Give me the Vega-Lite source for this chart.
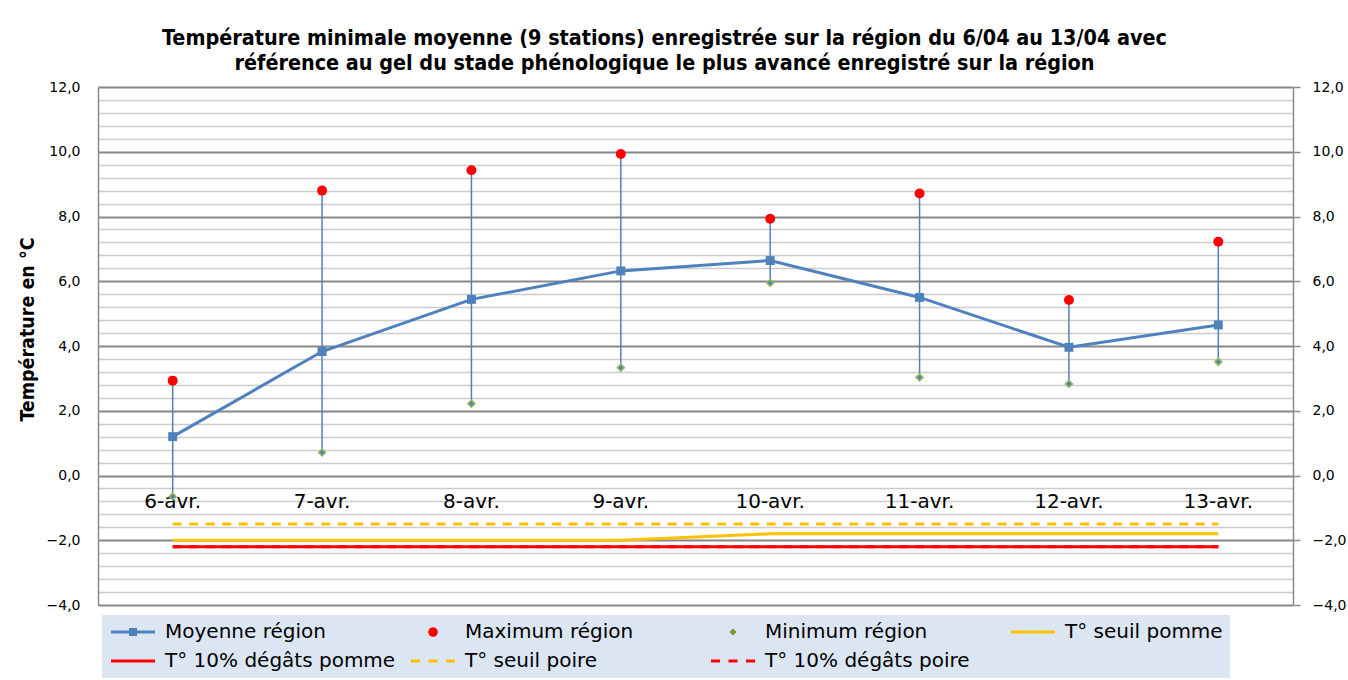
{
  "$schema": "https://vega.github.io/schema/vega-lite/v6.json",
  "width": 1195,
  "height": 518,
  "autosize": "none",
  "padding": {"left": 98, "top": 87, "right": 55, "bottom": 75},
  "background": "white",
  "config": {"view": {"stroke": null}, "font": "DejaVu Sans"},
  "title": {
    "text": ["Température minimale moyenne (9 stations) enregistrée sur la région du 6/04 au 13/04 avec", "référence au gel du stade phénologique le plus avancé enregistré sur la région"],
    "font": "Liberation Sans Narrow, DejaVu Sans Condensed, DejaVu Sans",
    "fontSize": 21.4,
    "fontWeight": "bold",
    "color": "black",
    "anchor": "middle",
    "lineHeight": 25,
    "offset": 6,
    "dx": -31
  },
  "datasets": {
    "temps": [
      {"date": "6-avr.", "moy": 1.2, "max": 2.93, "min": -0.65, "seuil_pomme": -2.0, "degats_pomme": -2.2, "seuil_poire": -1.5, "degats_poire": -2.2},
      {"date": "7-avr.", "moy": 3.83, "max": 8.8, "min": 0.71, "seuil_pomme": -2.0, "degats_pomme": -2.2, "seuil_poire": -1.5, "degats_poire": -2.2},
      {"date": "8-avr.", "moy": 5.44, "max": 9.43, "min": 2.22, "seuil_pomme": -2.0, "degats_pomme": -2.2, "seuil_poire": -1.5, "degats_poire": -2.2},
      {"date": "9-avr.", "moy": 6.32, "max": 9.93, "min": 3.33, "seuil_pomme": -2.0, "degats_pomme": -2.2, "seuil_poire": -1.5, "degats_poire": -2.2},
      {"date": "10-avr.", "moy": 6.64, "max": 7.93, "min": 5.95, "seuil_pomme": -1.8, "degats_pomme": -2.2, "seuil_poire": -1.5, "degats_poire": -2.2},
      {"date": "11-avr.", "moy": 5.5, "max": 8.71, "min": 3.03, "seuil_pomme": -1.8, "degats_pomme": -2.2, "seuil_poire": -1.5, "degats_poire": -2.2},
      {"date": "12-avr.", "moy": 3.96, "max": 5.42, "min": 2.83, "seuil_pomme": -1.8, "degats_pomme": -2.2, "seuil_poire": -1.5, "degats_poire": -2.2},
      {"date": "13-avr.", "moy": 4.65, "max": 7.22, "min": 3.51, "seuil_pomme": -1.8, "degats_pomme": -2.2, "seuil_poire": -1.5, "degats_poire": -2.2}
    ],
    "series": [
      {"serie": "Moyenne région"},
      {"serie": "Maximum région"},
      {"serie": "Minimum région"},
      {"serie": "T° seuil pomme"},
      {"serie": "T° 10% dégâts pomme"},
      {"serie": "T° seuil poire"},
      {"serie": "T° 10% dégâts poire"}
    ]
  },
  "data": {"name": "temps"},
  "layer": [
    {
      "mark": {"type": "line", "color": "#FF0000", "strokeWidth": 3, "strokeDash": [9, 7.5]},
      "encoding": {
        "x": {
          "field": "date", "type": "nominal",
          "scale": {"type": "point", "padding": 0.5, "domain": ["6-avr.", "7-avr.", "8-avr.", "9-avr.", "10-avr.", "11-avr.", "12-avr.", "13-avr."]},
          "axis": null
        },
        "y": {
          "field": "degats_poire", "type": "quantitative",
          "scale": {"domain": [-4, 12], "nice": false, "zero": false},
          "axis": {
            "orient": "left",
            "title": "Température en °C",
            "titleFont": "Liberation Sans Narrow, DejaVu Sans Condensed, DejaVu Sans",
            "titleFontSize": 19.5,
            "titleFontWeight": "bold",
            "titleColor": "black",
            "titlePadding": 9,
            "titleY": 242,
            "values": [-4, -3.6, -3.2, -2.8, -2.4, -2, -1.6, -1.2, -0.8, -0.4, 0, 0.4, 0.8, 1.2, 1.6, 2, 2.4, 2.8, 3.2, 3.6, 4, 4.4, 4.8, 5.2, 5.6, 6, 6.4, 6.8, 7.2, 7.6, 8, 8.4, 8.8, 9.2, 9.6, 10, 10.4, 10.8, 11.2, 11.6, 12],
            "labelExpr": "abs(datum.value % 2) < 0.001 ? replace(format(datum.value, '.1f'), '.', ',') : ''",
            "labelFont": "DejaVu Sans",
            "labelFontSize": 14,
            "labelColor": "black",
            "labelPadding": 18,
            "ticks": false,
            "domain": true,
            "domainColor": "#8C8C8C",
            "domainWidth": 1.5,
            "grid": true,
            "gridColor": {"condition": {"test": "abs(datum.value % 2) < 0.001", "value": "#878787"}, "value": "#CCCCCC"},
            "gridWidth": {"condition": {"test": "abs(datum.value % 2) < 0.001", "value": 2.2}, "value": 1.5},
            "gridOpacity": 1
          }
        }
      }
    },
    {
      "mark": {"type": "line", "color": "#FF0000", "strokeWidth": 3},
      "encoding": {
        "x": {"field": "date", "type": "nominal", "axis": null},
        "y": {"field": "degats_pomme", "type": "quantitative", "axis": null}
      }
    },
    {
      "mark": {"type": "line", "color": "#FFC000", "strokeWidth": 3},
      "encoding": {
        "x": {"field": "date", "type": "nominal", "axis": null},
        "y": {"field": "seuil_pomme", "type": "quantitative", "axis": null}
      }
    },
    {
      "mark": {"type": "line", "color": "#FFC000", "strokeWidth": 3, "strokeDash": [9, 7.5]},
      "encoding": {
        "x": {"field": "date", "type": "nominal", "axis": null},
        "y": {"field": "seuil_poire", "type": "quantitative", "axis": null}
      }
    },
    {
      "mark": {"type": "text", "font": "DejaVu Sans", "fontSize": 20, "color": "black", "baseline": "alphabetic", "align": "center", "dy": 32},
      "encoding": {
        "x": {"field": "date", "type": "nominal", "axis": null},
        "y": {"datum": 0, "type": "quantitative", "axis": null},
        "text": {"field": "date"}
      }
    },
    {
      "mark": {"type": "rule", "color": "#4F81BD", "strokeWidth": 1.5},
      "encoding": {
        "x": {"field": "date", "type": "nominal", "axis": null},
        "y": {
          "field": "min", "type": "quantitative",
          "axis": {
            "orient": "right",
            "title": null,
            "values": [-4, -2, 0, 2, 4, 6, 8, 10, 12],
            "labelExpr": "replace(format(datum.value, '.1f'), '.', ',')",
            "labelFont": "DejaVu Sans",
            "labelFontSize": 14,
            "labelColor": "black",
            "labelPadding": 12,
            "ticks": true,
            "tickSize": 7,
            "tickColor": "#8C8C8C",
            "tickWidth": 1.5,
            "domain": true,
            "domainColor": "#8C8C8C",
            "domainWidth": 1.5,
            "grid": false
          }
        },
        "y2": {"field": "max"}
      }
    },
    {
      "mark": {"type": "line", "color": "#4F81BD", "strokeWidth": 3},
      "encoding": {
        "x": {"field": "date", "type": "nominal", "axis": null},
        "y": {"field": "moy", "type": "quantitative", "axis": null}
      }
    },
    {
      "mark": {"type": "point", "shape": "square", "filled": true, "color": "#4F81BD", "size": 80, "opacity": 1},
      "encoding": {
        "x": {"field": "date", "type": "nominal", "axis": null},
        "y": {"field": "moy", "type": "quantitative", "axis": null}
      }
    },
    {
      "mark": {"type": "point", "shape": "circle", "filled": true, "color": "#FF0000", "size": 100, "opacity": 1},
      "encoding": {
        "x": {"field": "date", "type": "nominal", "axis": null},
        "y": {"field": "max", "type": "quantitative", "axis": null}
      }
    },
    {
      "mark": {"type": "point", "shape": "diamond", "filled": true, "fill": "#4F81BD", "stroke": "#9BBB59", "strokeWidth": 1.5, "size": 50, "opacity": 1},
      "encoding": {
        "x": {"field": "date", "type": "nominal", "axis": null},
        "y": {"field": "min", "type": "quantitative", "axis": null}
      }
    },
    {
      "data": {"name": "series"},
      "mark": {"type": "point", "filled": true, "size": 256, "opacity": 1, "invalid": "filter"},
      "encoding": {
        "y": {"field": "nothing", "type": "quantitative", "axis": null},
        "color": {
          "field": "serie", "type": "nominal",
          "scale": {
            "domain": ["Moyenne région", "Maximum région", "Minimum région", "T° seuil pomme", "T° 10% dégâts pomme", "T° seuil poire", "T° 10% dégâts poire"],
            "range": ["#4F81BD", "#FF0000", "#77933C", "#FFC000", "#FF0000", "#FFC000", "#FF0000"]
          },
          "legend": {
            "title": null, "orient": "none", "legendX": 4, "legendY": 528, "direction": "horizontal",
            "columns": 4, "gridAlign": "all", "columnPadding": 13, "rowPadding": 9, "padding": 7,
            "fillColor": "#DCE6F2", "labelFont": "DejaVu Sans", "labelFontSize": 20, "labelColor": "black",
            "labelLimit": 400, "labelOffset": 36, "symbolSize": 256, "symbolStrokeWidth": 0
          }
        },
        "shape": {
          "field": "serie", "type": "nominal",
          "scale": {
            "domain": ["Moyenne région", "Maximum région", "Minimum région", "T° seuil pomme", "T° 10% dégâts pomme", "T° seuil poire", "T° 10% dégâts poire"],
            "range": [
              "M-1,-0.19H4.5V0.19H-1ZM1.25,-0.5H2.25V0.5H1.25Z",
              "M2.35,0A0.6,0.6,0,1,1,1.15,0A0.6,0.6,0,1,1,2.35,0Z",
              "M1.75,-0.45L2.2,0L1.75,0.45L1.3,0Z",
              "M-1,-0.19H4.5V0.19H-1Z",
              "M-1,-0.19H4.5V0.19H-1Z",
              "M-1,-0.19H0.125V0.19H-1ZM1.1875,-0.19H2.3125V0.19H1.1875ZM3.375,-0.19H4.5V0.19H3.375Z",
              "M-1,-0.19H0.125V0.19H-1ZM1.1875,-0.19H2.3125V0.19H1.1875ZM3.375,-0.19H4.5V0.19H3.375Z"
            ]
          },
          "legend": {
            "title": null, "orient": "none", "legendX": 4, "legendY": 528, "direction": "horizontal",
            "columns": 4, "gridAlign": "all", "columnPadding": 13, "rowPadding": 9, "padding": 7,
            "fillColor": "#DCE6F2", "labelFont": "DejaVu Sans", "labelFontSize": 20, "labelColor": "black",
            "labelLimit": 400, "labelOffset": 36, "symbolSize": 256, "symbolStrokeWidth": 0
          }
        }
      }
    }
  ],
  "resolve": {"axis": {"y": "independent"}}
}
